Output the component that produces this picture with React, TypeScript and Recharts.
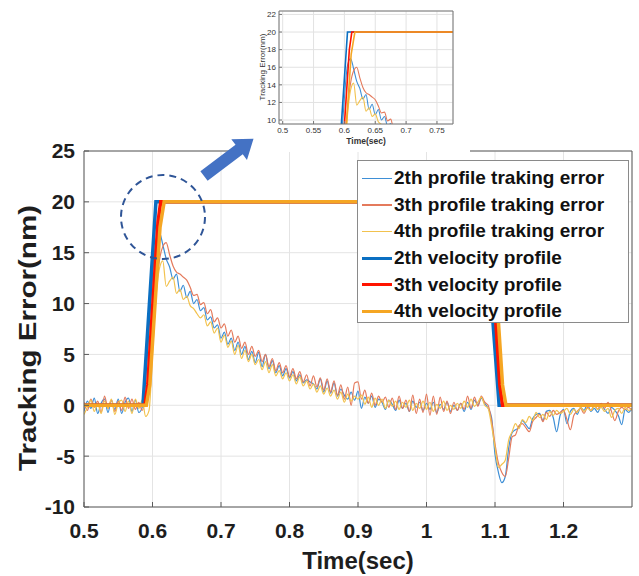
import React from "react";
import { LineChart, Line, XAxis, YAxis, CartesianGrid } from "recharts";

// sampling grid of the tracking error traces (sec)
const T0 = 0.5;
const DT = 0.005;

// 2th profile tracking error (nm), t = 0.5 .. 1.3
const ERR2 = [
  -0.6, 0.4, -0.3, 0.7, -0.8, 0.2, 0.6, -0.7, 0.5, -0.4,
  0.6, -0.8, 0.3, 0.7, -0.6, 0.5, -0.7, -0.2, 2.5, 7.5,
  12.5, 16.2, 17.0, 15.8, 14.4, 13.6, 12.4, 12.9, 11.2, 11.8,
  10.6, 11.2, 10.0, 10.4, 9.3, 9.6, 8.4, 8.7, 7.6, 7.9,
  6.6, 7.2, 6.0, 6.6, 5.4, 6.2, 5.0, 5.8, 4.5, 5.3,
  4.2, 5.2, 3.8, 5.0, 3.6, 4.4, 3.2, 3.9, 2.9, 3.6,
  2.7, 3.3, 2.4, 3.0, 2.2, 2.5, 2.3, 2.1, 1.6, 2.6,
  1.3, 2.4, 1.2, 2.2, 0.9, 1.6, 1.0, 0.6, 1.3, 0.5,
  1.4, -0.3, 0.8, 0.2, 0.9, -0.2, 0.6, 0.3, -0.4, 0.5,
  0.1, -0.5, 0.5, -0.3, 0.2, -0.6, 0.4, -0.2, 0.3, -0.5,
  0.2, -0.4, 0.3, -0.7, 0.1, -0.4, 0.3, -0.6, 0.0, -0.5,
  0.2, -0.6, 0.3, -0.4, 0.5, 0.0, 0.7, 0.2, -0.3, -1.2,
  -4.8, -6.6, -7.6, -7.0, -4.2, -2.7, -2.4, -2.2, -1.5, -1.9,
  -2.3, -1.3, -0.9, -0.8, -1.5, -0.6, -0.5, -1.2, -2.6, -1.0,
  -0.4, -1.8, -0.6, -0.3, -0.9, -0.2, -0.5, 0.1, -0.6, -0.3,
  -0.7, 0.0, -0.4, -0.8, -0.2, -0.5, -1.0, -1.9, -0.4, -0.7,
  -0.3,
];

// 3th profile tracking error (nm)
const ERR3 = [
  0.3, -0.5, 0.6, -0.2, 0.4, -0.7, 0.9, -0.3, 0.5, -0.6,
  0.4, -0.5, 0.8, -0.3, 0.6, -0.4, 0.3, -0.5, 0.8, 3.5,
  7.5, 11.2, 14.2, 15.6, 16.0, 14.8, 13.7, 13.1, 12.9, 12.6,
  12.3, 11.6, 10.8, 10.9, 9.9, 10.1, 9.0, 9.4, 8.2, 8.6,
  7.6, 8.0, 6.8, 7.4, 6.2, 6.8, 5.6, 6.2, 5.0, 5.8,
  4.8, 5.4, 4.3, 5.0, 3.8, 4.6, 3.4, 4.2, 3.2, 3.9,
  2.8, 3.6, 2.6, 3.3, 2.3, 3.0, 1.9, 2.9, 1.8, 2.7,
  1.5, 2.6, 1.3, 2.4, 1.0, 2.0, 0.6, 1.8, 0.0, 2.2,
  2.3, 0.6, 1.5, 0.2, 1.2, 0.0, 0.9, 0.3, 0.8, -0.2,
  0.7, -0.4, 0.9, -0.3, 0.5, -0.6, 1.0, -0.8, 0.6, -0.7,
  1.1, -1.0, 0.9, -0.9, 0.8, -0.6, 0.4, -0.8, 0.3, -0.5,
  0.2, -0.4, 0.9, -0.3, 0.8, -0.1, 0.9, 0.3, 0.0, -1.5,
  -3.8, -5.7, -6.6, -7.0, -5.2, -3.1, -2.9, -2.0, -1.8, -2.2,
  -2.6, -1.6, -1.2, -0.9, -1.6, -0.7, -1.1, -0.5, -0.9, -0.7,
  -0.5, -1.4, -2.4, -1.0, -0.6, -0.3, -0.8, -0.2, -0.5, 0.0,
  -0.4, 0.2, -0.3, 0.3, -0.6, -1.5, -0.6, -0.2, -0.4, -0.2,
  -0.5,
];

// 4th profile tracking error (nm)
const ERR4 = [
  -0.9, -0.2, 0.5, -0.6, 0.2, -0.8, 0.4, -0.3, 0.6, -0.9,
  0.2, 0.5, -0.6, 0.4, -0.8, 0.6, -0.3, 0.5, -1.1, -0.5,
  5.0, 10.5, 13.4, 14.2, 11.7, 12.2, 12.6, 11.0, 11.4, 10.4,
  10.7, 9.8, 9.5, 9.0, 8.6, 8.9, 7.8, 8.2, 7.1, 7.6,
  6.2, 6.9, 5.7, 6.3, 5.0, 5.9, 4.6, 5.4, 4.3, 5.0,
  4.0, 4.5, 3.5, 4.3, 3.2, 4.0, 2.9, 3.4, 2.6, 3.2,
  2.4, 3.0, 2.1, 2.8, 1.9, 2.4, 1.6, 2.1, 1.3, 1.9,
  1.1, 1.7, 0.9, 1.5, 0.6, 1.3, 0.3, 1.1, 0.4, 0.9,
  0.6, 1.0, 0.1, 0.8, -0.2, 0.7, 0.0, 0.6, -0.3, 0.5,
  -0.1, 0.4, -0.4, 0.3, -0.2, 0.5, -0.5, 0.2, -0.3, 0.4,
  -0.4, 0.3, -0.6, 0.1, -0.3, 0.4, -0.5, 0.0, -0.4, 0.2,
  -0.3, 0.4, -0.2, 0.6, -0.1, 0.3, 0.8, 0.0, -0.3, -2.0,
  -4.1, -6.1, -5.8, -5.4, -3.4, -2.6, -1.8, -2.3, -1.4, -1.7,
  -1.1, -1.5, -0.7, -1.2, -0.9, -1.4, -0.6, -1.0, -0.5, -0.8,
  -0.6, -0.3, -0.9, -0.4, -0.7, -0.2, -0.6, -0.3, -0.5, -0.1,
  -0.4, -0.2, -0.6, -0.3, -1.2, -0.5, -0.3, -0.8, -0.2, -0.5,
  -0.3,
];

// velocity profiles (breakpoints)
const VEL2_T = [0.5, 0.586, 0.605, 1.084, 1.106, 1.3];
const VEL2_V = [0, 0, 20, 20, 0, 0];
const VEL3_T = [0.5, 0.589, 0.593, 0.608, 0.612, 1.088, 1.092, 1.107, 1.111, 1.3];
const VEL3_V = [0, 0, 2, 18, 20, 20, 18, 2, 0, 0];
const VEL4_T = [0.5, 0.591, 0.596, 0.611, 0.617, 1.091, 1.096, 1.111, 1.116, 1.3];
const VEL4_V = [0, 0, 2, 17.5, 20, 20, 17.5, 2, 0, 0];

const X_TICKS = [0.5, 0.6, 0.7, 0.8, 0.9, 1, 1.1, 1.2];
const Y_TICKS = [-10, -5, 0, 5, 10, 15, 20, 25];
const INSET_X_TICKS = [0.5, 0.55, 0.6, 0.65, 0.7, 0.75];
const INSET_Y_TICKS = [10, 12, 14, 16, 18, 20, 22];

const LEGEND_LABELS = [
  "2th profile traking error",
  "3th profile traking error",
  "4th profile traking error",
  "2th velocity profile",
  "3th velocity profile",
  "4th velocity profile",
];

const sampled = (vals: number[]) =>
  vals.map((v, i) => ({ t: Math.round((T0 + i * DT) * 1000) / 1000, v }));
const paired = (ts: number[], vs: number[]) => ts.map((t, i) => ({ t, v: vs[i] }));

const SERIES = [
  { name: LEGEND_LABELS[0], data: sampled(ERR2), color: "#3e8fd6", width: 1.2, thick: false },
  { name: LEGEND_LABELS[1], data: sampled(ERR3), color: "#e47a5c", width: 1.2, thick: false },
  { name: LEGEND_LABELS[2], data: sampled(ERR4), color: "#f2c24e", width: 1.2, thick: false },
  { name: LEGEND_LABELS[3], data: paired(VEL2_T, VEL2_V), color: "#0a6fc2", width: 3.5, thick: true },
  { name: LEGEND_LABELS[4], data: paired(VEL3_T, VEL3_V), color: "#ff1400", width: 3.5, thick: true },
  { name: LEGEND_LABELS[5], data: paired(VEL4_T, VEL4_V), color: "#f5a623", width: 3.5, thick: true },
];

const FONT = "'Liberation Sans', Arial, sans-serif";
const tickStyle = { fontSize: 21, fontWeight: 700, fill: "#1e1e1e", fontFamily: FONT };
const smallTick = { fontSize: 8, fill: "#333", fontFamily: FONT };

// plot area: x 84..632, y 151..507
function MainChart() {
  return (
    <LineChart width={639} height={576} margin={{ top: 150, right: 6, bottom: 39, left: 24 }}>
      <CartesianGrid stroke="#e4e4e4" />
      <XAxis type="number" dataKey="t" domain={[0.5, 1.3]} ticks={X_TICKS} allowDataOverflow height={30}
        tickSize={-5} tickMargin={21} stroke="#5a5a5a" tick={tickStyle} interval={0} />
      <XAxis xAxisId="top" orientation="top" type="number" dataKey="t" domain={[0.5, 1.3]} ticks={X_TICKS}
        allowDataOverflow height={1} tickSize={-5} tick={false} stroke="#5a5a5a" interval={0} />
      <YAxis type="number" domain={[-10, 25]} ticks={Y_TICKS} allowDataOverflow width={60}
        tickSize={-5} tickMargin={14} stroke="#5a5a5a" tick={tickStyle} interval={0} />
      <YAxis yAxisId="right" orientation="right" type="number" domain={[-10, 25]} ticks={Y_TICKS}
        allowDataOverflow width={1} tickSize={-5} tick={false} stroke="#5a5a5a" interval={0} />
      {SERIES.map((s) => (
        <Line key={s.name} data={s.data} dataKey="v" type={s.thick ? "linear" : "monotone"} stroke={s.color}
          strokeWidth={s.width} dot={false} activeDot={false} isAnimationActive={false} />
      ))}
    </LineChart>
  );
}

// plot area: x 279..453, y 11..124
function InsetChart() {
  return (
    <LineChart width={232} height={152} margin={{ top: 10, right: 16, bottom: 8, left: 11 }}>
      <CartesianGrid stroke="#e2e2e2" />
      <XAxis type="number" dataKey="t" domain={[0.494, 0.776]} ticks={INSET_X_TICKS} allowDataOverflow height={20}
        tickSize={-3} tickMargin={6} stroke="#777" tick={smallTick} interval={0} />
      <XAxis xAxisId="top" orientation="top" type="number" dataKey="t" domain={[0.494, 0.776]} ticks={INSET_X_TICKS}
        allowDataOverflow height={1} tickSize={-3} tick={false} stroke="#777" interval={0} />
      <YAxis type="number" domain={[9.55, 22.39]} ticks={INSET_Y_TICKS} allowDataOverflow width={30}
        tickSize={-3} tickMargin={6} stroke="#777" tick={smallTick} interval={0} />
      <YAxis yAxisId="right" orientation="right" type="number" domain={[9.55, 22.39]} ticks={INSET_Y_TICKS}
        allowDataOverflow width={1} tickSize={-3} tick={false} stroke="#777" interval={0} />
      {SERIES.map((s) => (
        <Line key={s.name} data={s.data} dataKey="v" type={s.thick ? "linear" : "monotone"} stroke={s.color}
          strokeWidth={s.thick ? 1.6 : 1.1} dot={false} activeDot={false} isAnimationActive={false} />
      ))}
    </LineChart>
  );
}

function LegendBox() {
  return (
    <div style={{ position: "absolute", left: 357, top: 160, width: 272, height: 163, background: "#fff",
      border: "1px solid #8a8a8a", boxSizing: "border-box" }}>
      {SERIES.map((s, i) => (
        <div key={s.name} style={{ position: "absolute", left: 0, top: 4 + i * 26.6, height: 26.6,
          display: "flex", alignItems: "center" }}>
          <div style={{ width: 30, height: s.thick ? 3 : 1.5, background: s.color, marginLeft: 4 }} />
          <span style={{ marginLeft: 2, fontFamily: FONT, fontWeight: 700, fontSize: 19, color: "#111",
            whiteSpace: "nowrap" }}>{s.name}</span>
        </div>
      ))}
    </div>
  );
}

export default function App() {
  return (
    <div style={{ position: "absolute", left: 0, top: 0, width: 639, height: 576, background: "#fff" }}>
      <MainChart />
      <LegendBox />
      <div style={{ position: "absolute", left: 238, top: 0, width: 232, height: 152, background: "#fff" }}>
        <InsetChart />
      </div>
      <svg width={639} height={576} style={{ position: "absolute", left: 0, top: 0, pointerEvents: "none" }}>
        <text x={27} y={338} transform="rotate(-90 27 338)" textAnchor="middle" dominantBaseline="central"
          fontFamily={FONT} fontWeight={700} fontSize={24} fill="#1e1e1e" textLength={266}
          lengthAdjust="spacingAndGlyphs">Tracking Error(nm)</text>
        <text x={358} y={560} textAnchor="middle" dominantBaseline="central" fontFamily={FONT}
          fontWeight={700} fontSize={24} fill="#1e1e1e">Time(sec)</text>
        <text x={366} y={141} textAnchor="middle" dominantBaseline="central" fontFamily={FONT}
          fontWeight={700} fontSize={8.5} fill="#333">Time(sec)</text>
        <text x={262} y={67} transform="rotate(-90 262 67)" textAnchor="middle" dominantBaseline="central"
          fontFamily={FONT} fontSize={8} fill="#333">Tracking Error(nm)</text>
        <circle cx={163} cy={217} r={42} fill="none" stroke="#2f5597" strokeWidth={2} strokeDasharray="7 5" />
        <g transform="translate(204 176) rotate(-37)">
          <polygon points="0,-6 44,-6 44,-13 62,0 44,13 44,6 0,6" fill="#4472c4" />
        </g>
      </svg>
    </div>
  );
}
